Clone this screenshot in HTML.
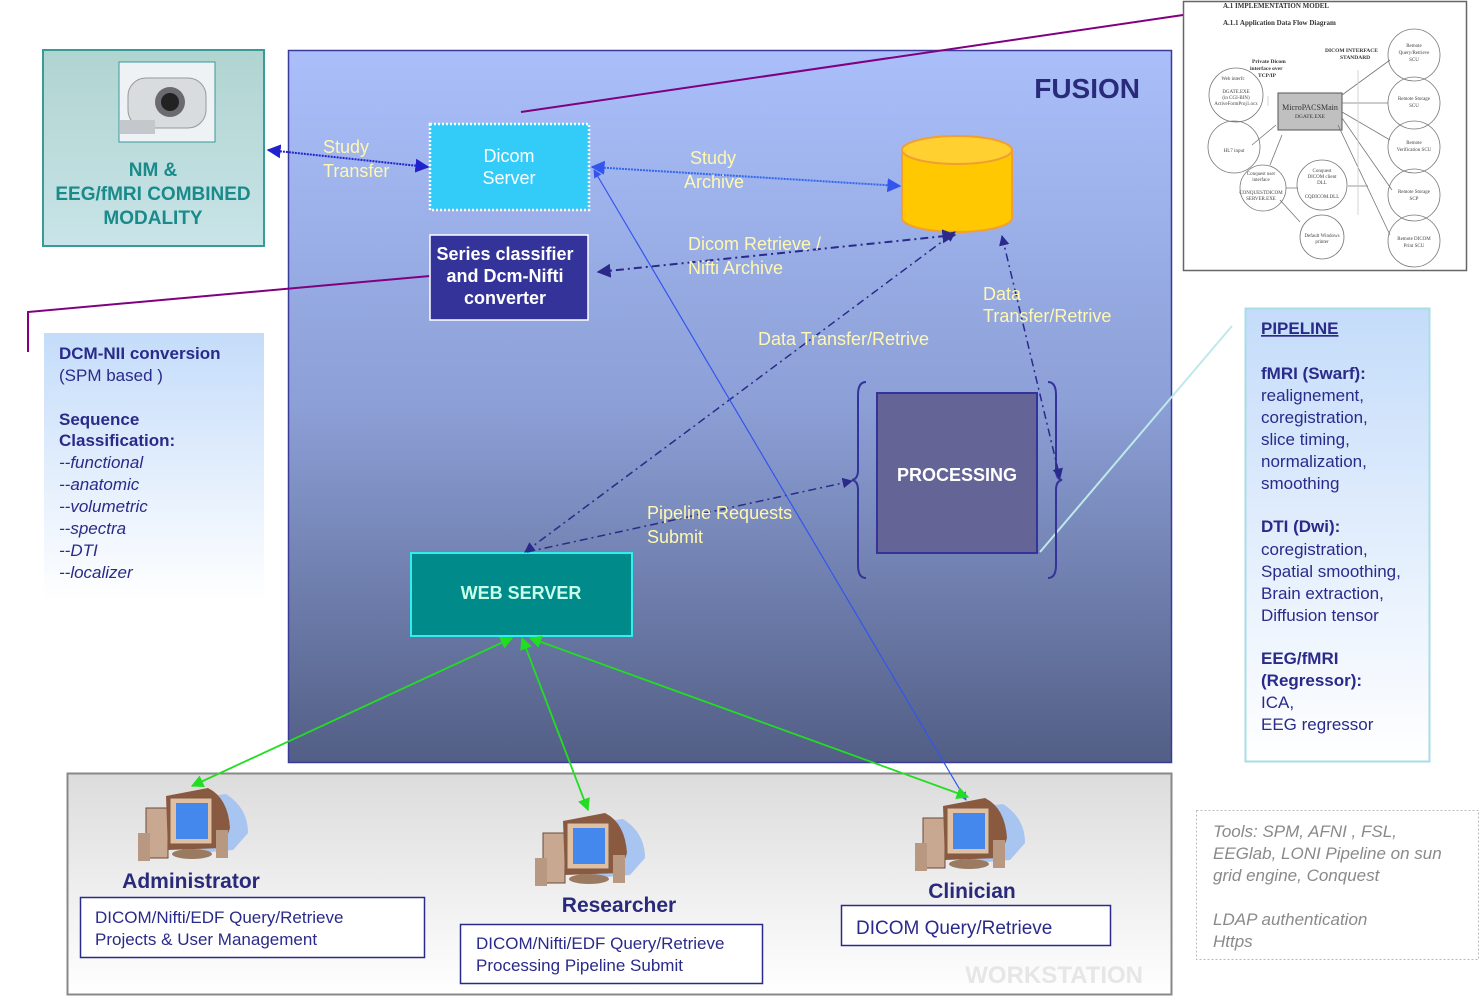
<!DOCTYPE html>
<html><head><meta charset="utf-8"><style>
html,body{margin:0;padding:0;background:#fff;}
svg{display:block;font-family:"Liberation Sans",sans-serif;}
</style></head><body>
<svg width="1480" height="996" viewBox="0 0 1480 996" xmlns="http://www.w3.org/2000/svg">
<defs>
<linearGradient id="fus" x1="0" y1="0" x2="0" y2="1"><stop offset="0" stop-color="#aabffa"/><stop offset="0.5" stop-color="#8c9fd6"/><stop offset="1" stop-color="#525e85"/></linearGradient>
<linearGradient id="ws" x1="0" y1="0" x2="0" y2="1"><stop offset="0" stop-color="#dcdcdc"/><stop offset="1" stop-color="#ffffff"/></linearGradient>
<linearGradient id="nm" x1="0" y1="0" x2="0" y2="1"><stop offset="0" stop-color="#b0d4d0"/><stop offset="1" stop-color="#c8e4e8"/></linearGradient>
<linearGradient id="lb" x1="0" y1="0" x2="0" y2="1"><stop offset="0" stop-color="#c4dcfa"/><stop offset="1" stop-color="#ffffff"/></linearGradient>
<linearGradient id="pb" x1="0" y1="0" x2="0" y2="1"><stop offset="0" stop-color="#c4dcfa"/><stop offset="1" stop-color="#ffffff"/></linearGradient>
<linearGradient id="cyl" x1="0" y1="0" x2="1" y2="0"><stop offset="0" stop-color="#ffc800"/><stop offset="1" stop-color="#ffcc10"/></linearGradient>
<marker id="ab" viewBox="0 0 10 10" refX="9" refY="5" markerWidth="7" markerHeight="7" orient="auto-start-reverse"><path d="M0,0L10,5L0,10z" fill="#2222cc"/></marker>
<marker id="ad" viewBox="0 0 10 10" refX="9" refY="5" markerWidth="7" markerHeight="7" orient="auto-start-reverse"><path d="M0,0L10,5L0,10z" fill="#2a2a8a"/></marker>
<marker id="ag" viewBox="0 0 10 10" refX="9" refY="5" markerWidth="7" markerHeight="7" orient="auto-start-reverse"><path d="M0,0L10,5L0,10z" fill="#22dd22"/></marker>
<marker id="al" viewBox="0 0 10 10" refX="9" refY="5" markerWidth="7" markerHeight="7" orient="auto-start-reverse"><path d="M0,0L10,5L0,10z" fill="#3355ee"/></marker>
</defs>

<!-- Fusion -->
<rect x="288.5" y="50.5" width="883" height="712" fill="url(#fus)" stroke="#3a3a9a" stroke-width="1.5"/>
<text x="1140" y="98" text-anchor="end" font-size="28" font-weight="bold" fill="#2a2a7a">FUSION</text>

<!-- Workstation -->
<rect x="67.5" y="773.5" width="1104" height="221" fill="url(#ws)" stroke="#888" stroke-width="2"/>
<text x="1143" y="983" text-anchor="end" font-size="24" font-weight="bold" fill="#e6e6e6">WORKSTATION</text>

<!-- top right doc -->
<rect x="1183.5" y="1.5" width="283" height="269" fill="#fff" stroke="#666" stroke-width="1.5"/>
<g font-family="Liberation Serif,serif" fill="#333" font-size="6">
<text x="1223" y="8" font-weight="bold" font-size="7">A.1   IMPLEMENTATION MODEL</text>
<text x="1223" y="25" font-weight="bold" font-size="7">A.1.1  Application Data Flow Diagram</text>
<text x="1325" y="52" font-weight="bold" font-size="5.5">DICOM INTERFACE</text><text x="1340" y="59" font-weight="bold" font-size="5.5">STANDARD</text>
<text x="1252" y="63" font-weight="bold" font-size="5.5">Private Dicom</text><text x="1250" y="70" font-weight="bold" font-size="5.5">interface over</text><text x="1258" y="77" font-weight="bold" font-size="5.5">TCP/IP</text>
<rect x="1278" y="93" width="64" height="37" fill="#c0c0c0" stroke="#555"/>
<text x="1310" y="110" text-anchor="middle" font-size="8">MicroPACSMain</text><text x="1310" y="118" text-anchor="middle" font-size="5.5">DGATE.EXE</text>
</g>
<g fill="none" stroke="#777" stroke-width="0.8">
<circle cx="1236" cy="95" r="27"/><circle cx="1234" cy="147" r="26"/><circle cx="1263" cy="188" r="23"/><circle cx="1322" cy="185" r="25"/><circle cx="1322" cy="237" r="22"/>
<circle cx="1414" cy="55" r="26"/><circle cx="1414" cy="103" r="26"/><circle cx="1414" cy="147" r="26"/><circle cx="1414" cy="195" r="26"/><circle cx="1414" cy="241" r="26"/>
<path d="M1342 95L1390 60M1342 103L1388 103M1342 112L1390 140M1342 118L1392 190M1338 125L1390 235M1252 145L1276 125M1270 165L1282 135M1286 188L1298 188M1280 200L1300 222M1348 186L1368 186"/>
<path d="M1358 70V215M1268 96V106" stroke="#ccc"/>
</g>
<g font-family="Liberation Serif,serif" fill="#444" font-size="5" text-anchor="middle">
<text x="1233" y="80">Web interfc</text><text x="1236" y="93">DGATE.EXE</text><text x="1236" y="99">(in CGI-BIN)</text><text x="1236" y="105">ActiveFormProj1.ocx</text>
<text x="1234" y="152">HL7 input</text><text x="1261" y="175">Conquest user</text><text x="1261" y="181">interface</text><text x="1261" y="194">CONQUESTDICOM</text><text x="1261" y="200">SERVER.EXE</text>
<text x="1322" y="172">Conquest</text><text x="1322" y="178">DICOM client</text><text x="1322" y="184">DLL</text><text x="1322" y="198">CQDICOM.DLL</text>
<text x="1322" y="237">Default Windows</text><text x="1322" y="243">printer</text>
<text x="1414" y="47">Remote</text><text x="1414" y="54">Query/Retrieve</text><text x="1414" y="61">SCU</text>
<text x="1414" y="100">Remote Storage</text><text x="1414" y="107">SCU</text>
<text x="1414" y="144">Remote</text><text x="1414" y="151">Verification SCU</text>
<text x="1414" y="193">Remote Storage</text><text x="1414" y="200">SCP</text>
<text x="1414" y="240">Remote DICOM</text><text x="1414" y="247">Print SCU</text>
</g>

<!-- purple lines -->
<path d="M521 112L1183 15" stroke="#800080" stroke-width="2" fill="none"/>
<path d="M430 276L28 312V352" stroke="#800080" stroke-width="2" fill="none"/>
<!-- light blue line to pipeline -->
<path d="M1040 552L1232 326" stroke="#bfe8ea" stroke-width="2" fill="none"/>

<!-- NM box -->
<rect x="43" y="50" width="221" height="196" fill="url(#nm)" stroke="#3a9a9a" stroke-width="2"/>
<rect x="119" y="62" width="96" height="80" fill="#eef2f4" stroke="#3a9a9a"/>
<rect x="128" y="78" width="78" height="50" rx="18" fill="#d8dcde" stroke="#999"/>
<circle cx="170" cy="102" r="15" fill="#6a6a70"/><circle cx="170" cy="102" r="9" fill="#222"/>
<rect x="120" y="120" width="35" height="14" fill="#c4c8cc"/>
<g font-size="19" font-weight="bold" fill="#1a8a8a" text-anchor="middle">
<text x="153" y="176">NM &amp;</text><text x="153" y="200">EEG/fMRI COMBINED</text><text x="153" y="224">MODALITY</text></g>

<!-- left panel -->
<rect x="44" y="333" width="220" height="268" fill="url(#lb)"/>
<g font-size="17" fill="#2a2a8a">
<text x="59" y="359" font-weight="bold">DCM-NII conversion</text>
<text x="59" y="381">(SPM based )</text>
<text x="59" y="425" font-weight="bold">Sequence</text>
<text x="59" y="446" font-weight="bold">Classification:</text>
<g font-style="italic"><text x="59" y="468">--functional</text><text x="59" y="490">--anatomic</text><text x="59" y="512">--volumetric</text><text x="59" y="534">--spectra</text><text x="59" y="556">--DTI</text><text x="59" y="578">--localizer</text></g>
</g>

<!-- pipeline panel -->
<rect x="1245.5" y="308.5" width="184" height="453" fill="url(#pb)" stroke="#a8dde4" stroke-width="2"/>
<g font-size="17" fill="#2a2a8a">
<text x="1261" y="334" font-weight="bold" text-decoration="underline">PIPELINE</text>
<text x="1261" y="379" font-weight="bold">fMRI (Swarf):</text>
<text x="1261" y="401">realignement,</text><text x="1261" y="423">coregistration,</text><text x="1261" y="445">slice timing,</text><text x="1261" y="467">normalization,</text><text x="1261" y="489">smoothing</text>
<text x="1261" y="532" font-weight="bold">DTI (Dwi):</text>
<text x="1261" y="555">coregistration,</text><text x="1261" y="577">Spatial smoothing,</text><text x="1261" y="599">Brain extraction,</text><text x="1261" y="621">Diffusion tensor</text>
<text x="1261" y="664" font-weight="bold">EEG/fMRI</text><text x="1261" y="686" font-weight="bold">(Regressor):</text>
<text x="1261" y="708">ICA,</text><text x="1261" y="730">EEG regressor</text>
</g>

<!-- tools -->
<rect x="1196.5" y="810.5" width="282" height="149" fill="#fff" stroke="#bbb" stroke-dasharray="2,2"/>
<g font-size="17" font-style="italic" fill="#8a8a8a">
<text x="1213" y="837">Tools: SPM, AFNI , FSL,</text><text x="1213" y="859">EEGlab, LONI Pipeline on sun</text><text x="1213" y="881">grid engine, Conquest</text>
<text x="1213" y="925">LDAP authentication</text><text x="1213" y="947">Https</text></g>

<!-- Dicom server -->
<rect x="430" y="124" width="159" height="86" fill="#33ccf8" stroke="#fff" stroke-width="2.5" stroke-dasharray="2,2"/>
<g font-size="18" fill="#fff" text-anchor="middle"><text x="509" y="162">Dicom</text><text x="509" y="184">Server</text></g>

<!-- series classifier -->
<rect x="430" y="235" width="158" height="85" fill="#333399" stroke="#fff" stroke-width="1.5"/>
<g font-size="18" font-weight="bold" fill="#fff" text-anchor="middle"><text x="505" y="260">Series classifier</text><text x="505" y="282">and  Dcm-Nifti</text><text x="505" y="304">converter</text></g>

<!-- cylinder -->
<path d="M902 150V218A55 14 0 0 0 1012 218V150" fill="#ffc800" stroke="#f0a030" stroke-width="2"/>
<ellipse cx="957" cy="150" rx="55" ry="14" fill="#ffd030" stroke="#f0a030" stroke-width="2"/>

<!-- processing -->
<rect x="877" y="393" width="160" height="160" fill="#646496" stroke="#333399" stroke-width="2"/>
<text x="957" y="481" text-anchor="middle" font-size="18" font-weight="bold" fill="#fff">PROCESSING</text>
<path d="M866 382Q858 382 858 395V470Q858 479 852 480Q858 481 858 490V565Q858 578 866 578" fill="none" stroke="#333399" stroke-width="2"/>
<path d="M1048 382Q1056 382 1056 395V470Q1056 479 1062 480Q1056 481 1056 490V565Q1056 578 1048 578" fill="none" stroke="#333399" stroke-width="2"/>

<!-- web server -->
<rect x="411" y="553" width="221" height="83" fill="#008a8a" stroke="#33eeee" stroke-width="2"/>
<text x="521" y="599" text-anchor="middle" font-size="18" font-weight="bold" fill="#c8ffe8">WEB SERVER</text>

<!-- connectors -->
<path d="M268 150L428 167" stroke="#2222cc" stroke-width="2" stroke-dasharray="2,1" fill="none" marker-start="url(#ab)" marker-end="url(#ab)"/>
<path d="M592 167L900 186" stroke="#3366ee" stroke-width="2" stroke-dasharray="2,1" fill="none" marker-start="url(#al)" marker-end="url(#al)"/>
<path d="M598 272L955 235" stroke="#2a2a8a" stroke-width="2" stroke-dasharray="8,4,2,4" fill="none" marker-start="url(#ad)" marker-end="url(#ad)"/>
<path d="M525 552L955 232" stroke="#2a2a8a" stroke-width="1.5" stroke-dasharray="8,4,2,4" fill="none" marker-start="url(#ad)" marker-end="url(#ad)"/>
<path d="M1002 236L1060 478" stroke="#2a2a8a" stroke-width="1.5" stroke-dasharray="8,4,2,4" fill="none" marker-start="url(#ad)" marker-end="url(#ad)"/>
<path d="M527 552L852 481" stroke="#2a2a8a" stroke-width="1.5" stroke-dasharray="8,4,2,4" fill="none" marker-end="url(#ad)"/>
<path d="M594 170L966 800" stroke="#3355ee" stroke-width="1.2" fill="none" marker-start="url(#al)" marker-end="url(#al)"/>
<path d="M512 638L192 786" stroke="#22dd22" stroke-width="1.8" fill="none" marker-start="url(#ag)" marker-end="url(#ag)"/>
<path d="M522 638L588 810" stroke="#22dd22" stroke-width="1.8" fill="none" marker-start="url(#ag)" marker-end="url(#ag)"/>
<path d="M530 638L968 797" stroke="#22dd22" stroke-width="1.8" fill="none" marker-start="url(#ag)" marker-end="url(#ag)"/>

<!-- connector labels -->
<g font-size="18" fill="#fff8b0">
<text x="323" y="153">Study</text><text x="323" y="177">Transfer</text>
<text x="690" y="164">Study</text><text x="684" y="188">Archive</text>
<text x="688" y="250">Dicom Retrieve /</text><text x="688" y="274">Nifti Archive</text>
<text x="758" y="345">Data Transfer/Retrive</text>
<text x="983" y="300">Data</text><text x="983" y="322">Transfer/Retrive</text>
<text x="647" y="519">Pipeline Requests</text><text x="647" y="543">Submit</text>
</g>

<!-- computers -->
<g transform="translate(138,788)">
<path d="M45 12L88 6Q110 20 110 45L95 62L60 65Z" fill="#a8c4f0"/>
<rect x="8" y="20" width="22" height="50" fill="#c8a890" stroke="#6a4a3a"/>
<path d="M28 8L70 0Q90 10 92 40L85 60L30 62Z" fill="#8a5a40"/>
<rect x="32" y="10" width="42" height="46" fill="#e0c0a0" stroke="#7a5a4a"/>
<rect x="38" y="15" width="32" height="36" fill="#4488ee"/>
<rect x="0" y="45" width="12" height="28" fill="#b89880"/><rect x="78" y="42" width="12" height="28" fill="#b89880"/>
<ellipse cx="54" cy="66" rx="20" ry="5" fill="#9a7a60"/>
</g>
<g transform="translate(535,813)">
<path d="M45 12L88 6Q110 20 110 45L95 62L60 65Z" fill="#a8c4f0"/>
<rect x="8" y="20" width="22" height="50" fill="#c8a890" stroke="#6a4a3a"/>
<path d="M28 8L70 0Q90 10 92 40L85 60L30 62Z" fill="#8a5a40"/>
<rect x="32" y="10" width="42" height="46" fill="#e0c0a0" stroke="#7a5a4a"/>
<rect x="38" y="15" width="32" height="36" fill="#4488ee"/>
<rect x="0" y="45" width="12" height="28" fill="#b89880"/><rect x="78" y="42" width="12" height="28" fill="#b89880"/>
<ellipse cx="54" cy="66" rx="20" ry="5" fill="#9a7a60"/>
</g>
<g transform="translate(915,798)">
<path d="M45 12L88 6Q110 20 110 45L95 62L60 65Z" fill="#a8c4f0"/>
<rect x="8" y="20" width="22" height="50" fill="#c8a890" stroke="#6a4a3a"/>
<path d="M28 8L70 0Q90 10 92 40L85 60L30 62Z" fill="#8a5a40"/>
<rect x="32" y="10" width="42" height="46" fill="#e0c0a0" stroke="#7a5a4a"/>
<rect x="38" y="15" width="32" height="36" fill="#4488ee"/>
<rect x="0" y="45" width="12" height="28" fill="#b89880"/><rect x="78" y="42" width="12" height="28" fill="#b89880"/>
<ellipse cx="54" cy="66" rx="20" ry="5" fill="#9a7a60"/>
</g>

<!-- roles -->
<g font-size="21" font-weight="bold" fill="#2a2a7a" text-anchor="middle">
<text x="191" y="888">Administrator</text><text x="619" y="912">Researcher</text><text x="972" y="898">Clinician</text></g>
<rect x="80.5" y="897.5" width="344" height="60" fill="#fff" stroke="#2a2a8a" stroke-width="1.5"/>
<rect x="460.5" y="924.5" width="302" height="59" fill="#fff" stroke="#2a2a8a" stroke-width="1.5"/>
<rect x="841.5" y="905.5" width="269" height="40" fill="#fff" stroke="#2a2a8a" stroke-width="1.5"/>
<g font-size="17" fill="#2a2a8a">
<text x="95" y="923">DICOM/Nifti/EDF Query/Retrieve</text><text x="95" y="945">Projects &amp; User Management</text>
<text x="476" y="949">DICOM/Nifti/EDF Query/Retrieve</text><text x="476" y="971">Processing Pipeline Submit</text>
<text x="856" y="934" font-size="19">DICOM Query/Retrieve</text></g>
</svg>
</body></html>
